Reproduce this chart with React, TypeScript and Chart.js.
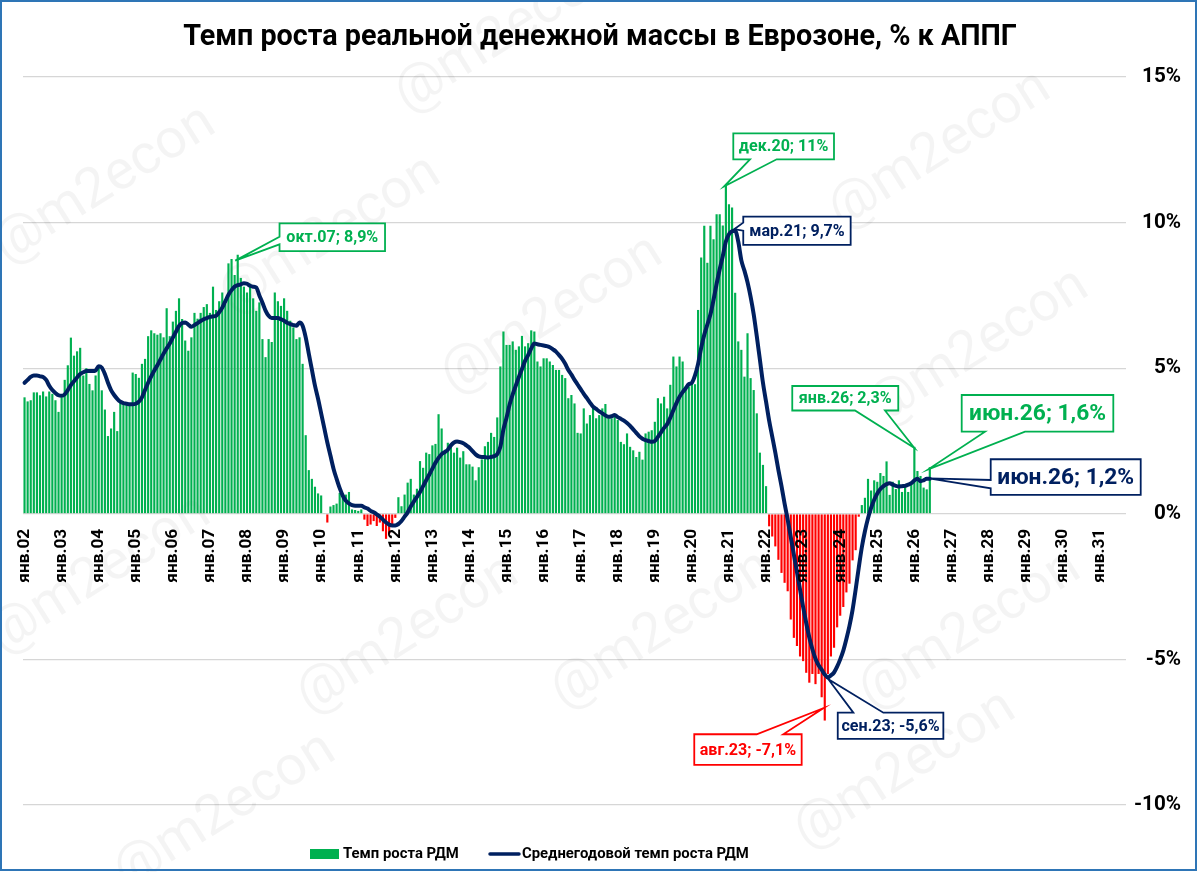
import React, { useEffect, useRef } from 'react';
import { Chart, registerables } from 'chart.js';

Chart.register(...registerables);

// ---------------- DATA ----------------
const MONTH_NAMES = ['янв', 'фев', 'мар', 'апр', 'май', 'июн', 'июл', 'авг', 'сен', 'окт', 'ноя', 'дек'];
const FIRST_YEAR = 2002;
const AXIS_MONTH_COUNT = 357; // янв.02 … сен.31
const categories: string[] = Array.from({ length: AXIS_MONTH_COUNT }, (_, i) =>
  `${MONTH_NAMES[i % 12]}.${String((FIRST_YEAR + Math.floor(i / 12)) % 100).padStart(2, '0')}`
);

// Темп роста РДМ, % к АППГ (янв.02 – июн.26)
const growthRDM: number[] = [
  4.0, 3.86, 3.9, 4.17, 4.17, 4.07, 4.2, 4.03, 4.2, 4.12, 3.9, 3.5,
  4.0, 4.6, 5.1, 6.05, 5.43, 5.58, 5.7, 4.75, 5.0, 4.46, 4.24, 4.75,
  5.03, 4.24, 3.58, 2.67, 2.93, 3.5, 2.84, 3.84, 3.84, 3.78, 3.78, 4.85,
  4.8, 4.67, 5.15, 5.32, 6.1, 6.3, 6.2, 6.15, 6.2, 6.06, 7.06, 6.1,
  6.6, 6.97, 7.4, 6.69, 5.95, 5.6, 6.06, 6.9, 6.7, 6.9, 7.1, 7.2,
  6.9, 7.8, 7.0, 7.3, 7.6, 7.2, 8.6, 8.75, 8.2, 8.9, 8.1, 7.8,
  7.6, 7.9, 7.4, 6.97, 7.26, 6.0, 5.38, 6.0, 5.9, 7.6, 7.3, 7.14,
  7.4, 6.97, 6.63, 6.4, 6.0, 6.06, 5.15, 2.7, 1.5, 1.2, 0.93, 0.7,
  0.63, 0.02, -0.3, 0.25, 0.3, 0.35, 0.72, 0.55, 0.66, 0.75, 0.15, 0.13,
  0.1, 0.15, -0.2, -0.42, -0.37, -0.25, -0.42, -0.3, -0.6, -0.86, -0.7, -0.42,
  -0.14, 0.57, 0.26, 0.66, 1.07, 1.2, 0.66, 0.86, 1.81, 1.58, 2.1, 2.05,
  2.35, 2.4, 3.42, 2.93, 2.15, 2.44, 2.4, 2.1, 2.27, 1.93, 2.15, 1.7,
  1.7, 1.62, 1.15, 1.6, 1.87, 2.32, 2.47, 2.78, 2.64, 3.31, 5.06, 6.26,
  5.8, 5.8, 5.92, 5.63, 5.75, 6.11, 5.75, 5.86, 6.3, 6.26, 5.23, 5.06,
  5.34, 5.34, 5.23, 5.11, 4.94, 4.94, 4.77, 4.66, 3.97, 4.08, 3.79, 2.78,
  2.76, 3.62, 3.1, 3.39, 3.68, 3.28, 3.39, 3.62, 3.77, 3.28, 3.28, 3.39,
  3.22, 2.47, 2.39, 2.76, 2.3, 2.18, 1.95, 2.13, 1.86, 2.76, 2.82, 2.87,
  3.16, 3.97, 3.79, 4.02, 3.62, 4.43, 5.4, 5.06, 5.4, 5.23, 4.37, 4.37,
  4.48, 4.45, 7.0, 8.8, 9.89, 8.62, 9.89, 9.43, 10.29, 10.29, 9.9, 11.26,
  10.63, 10.52, 7.59, 5.92, 5.63, 4.71, 6.2, 4.66, 4.25, 3.45, 2.1, 1.68,
  0.95, -0.43, -0.78, -1.12, -1.58, -2.03, -2.37, -2.66, -3.63, -4.26, -4.54, -4.9,
  -5.06, -5.46, -5.8, -5.5, -5.85, -5.5, -6.3, -7.1, -5.5, -4.9, -4.6, -3.9,
  -3.5, -3.2, -2.7, -2.4, -1.6, -1.25, -0.1, 0.3, 0.55, 1.2, 0.8, 1.15,
  1.1, 1.4, 1.3, 1.8, 0.65, 1.1, 0.85, 1.15, 0.75, 0.95, 0.75, 1.05,
  2.3, 1.47, 1.3, 0.9, 0.84, 1.6,
];

// Среднегодовой темп роста РДМ (янв.02 – июн.26)
const avgGrowthRDM: number[] = [
  4.5, 4.6, 4.7, 4.75, 4.75, 4.72, 4.7, 4.6, 4.4, 4.25, 4.15, 4.07,
  4.05, 4.1, 4.25, 4.42, 4.55, 4.68, 4.8, 4.86, 4.9, 4.9, 4.9, 4.92,
  5.07, 5.02, 4.8, 4.5, 4.25, 4.08, 3.95, 3.85, 3.8, 3.78, 3.76, 3.76,
  3.78, 3.85, 4.0, 4.25, 4.5, 4.72, 4.92, 5.1, 5.3, 5.5, 5.68, 5.85,
  6.05, 6.25, 6.45, 6.55, 6.57, 6.5, 6.42, 6.48, 6.55, 6.62, 6.68, 6.72,
  6.76, 6.78, 6.8, 6.92, 7.08, 7.3, 7.52, 7.68, 7.8, 7.85, 7.88, 7.92,
  7.9, 7.83, 7.8, 7.77, 7.5, 7.25, 6.98, 6.8, 6.72, 6.72, 6.72, 6.68,
  6.63, 6.56, 6.51, 6.48, 6.46, 6.57, 6.46, 6.06, 5.5, 4.95, 4.4, 3.95,
  3.45, 2.95, 2.45, 2.0, 1.55, 1.2, 0.88, 0.62, 0.45, 0.36, 0.3, 0.28,
  0.28, 0.28, 0.22, 0.18, 0.1, 0.05, -0.02, -0.1, -0.2, -0.3, -0.37, -0.4,
  -0.4, -0.35, -0.25, -0.1, 0.05, 0.25, 0.42, 0.58, 0.75, 0.95, 1.15, 1.35,
  1.55, 1.75, 1.92, 2.05, 2.12, 2.2, 2.35, 2.45, 2.48, 2.46, 2.42, 2.35,
  2.27, 2.15, 2.04, 1.97, 1.95, 1.95, 1.93, 1.95, 1.98, 2.05, 2.3, 2.9,
  3.3, 3.75, 4.1, 4.4, 4.7, 4.97, 5.25, 5.45, 5.68, 5.85, 5.82, 5.8,
  5.78, 5.76, 5.72, 5.65, 5.57, 5.45, 5.32, 5.15, 4.94, 4.78, 4.6, 4.44,
  4.28, 4.12, 3.97, 3.82, 3.68, 3.6, 3.52, 3.45, 3.38, 3.33, 3.35, 3.39,
  3.32, 3.26, 3.2, 3.12, 3.02, 2.9, 2.78, 2.66, 2.58, 2.53, 2.5, 2.47,
  2.5, 2.64, 2.8, 2.95, 3.08, 3.3, 3.56, 3.8, 4.02, 4.18, 4.31, 4.45,
  4.5, 4.75, 5.15, 5.7, 6.15, 6.5, 6.85, 7.35, 7.9, 8.4, 8.85, 9.35,
  9.6, 9.7, 9.72, 9.35, 8.7, 8.35, 7.95, 7.45, 6.85, 6.1, 5.3, 4.5,
  3.85, 3.2, 2.65, 2.1, 1.5, 0.95, 0.35, -0.2, -0.8, -1.4, -2.0, -2.6,
  -3.2, -3.75, -4.25, -4.65, -4.98, -5.2, -5.35, -5.52, -5.62, -5.55, -5.45, -5.25,
  -5.0, -4.7, -4.3, -3.85, -3.3, -2.6, -1.85, -1.15, -0.6, -0.15, 0.2, 0.48,
  0.7, 0.85, 0.95, 1.02, 1.05, 1.0, 0.96, 0.94, 0.95, 0.96, 1.0, 1.05,
  1.15, 1.2, 1.12, 1.15, 1.2, 1.2,
];

const Y_MIN = -10;
const Y_MAX = 15;
const Y_STEP = 5;

const titleText = 'Темп роста реальной денежной массы в Еврозоне, % к АППГ';
const legendTexts = ['Темп роста РДМ', 'Среднегодовой темп роста РДМ'];
const watermarkText = '@m2econ';

// callouts: label, month index, which series is annotated
const calloutTexts = ['окт.07; 8,9%', 'дек.20; 11%', 'мар.21; 9,7%', 'янв.26; 2,3%', 'июн.26; 1,6%', 'июн.26; 1,2%', 'сен.23; -5,6%', 'авг.23; -7,1%'];
const calloutIndex = [69, 227, 230, 288, 293, 293, 260, 259];
const calloutSeries = ['bar', 'bar', 'line', 'bar', 'bar', 'line', 'line', 'bar'];

// ---------------- STYLE / LAYOUT ----------------
const GREEN = '#00B050';
const RED = '#FF0000';
const NAVY = '#002060';
const FRAME = '#2E75B6';
const GRID = '#d6d6d6';
const FONT = 'Roboto, "Noto Sans", sans-serif';

type Side = 'left' | 'top' | 'bottom';
const calloutLayout: { dx: number; dy: number; w: number; h: number; side: Side; b1: number; b2: number; tdx: number; tdy: number; big: boolean }[] = [
  { dx: 41.8, dy: -31.3, w: 105.5, h: 27.7, side: 'left', b1: 13.5, b2: 21, tdx: -2.5, tdy: 6, big: false },
  { dx: 7.4, dy: -52.6, w: 100.7, h: 26, side: 'bottom', b1: 16.7, b2: 43.4, tdx: -1.9, tdy: 0.6, big: false },
  { dx: 8.1, dy: -14.1, w: 107.4, h: 28.3, side: 'left', b1: 6, b2: 14, tdx: -1, tdy: -1.5, big: false },
  { dx: -122.1, dy: -60.8, w: 106, h: 24.5, side: 'bottom', b1: 62.7, b2: 92.7, tdx: 0, tdy: 1.2, big: false },
  { dx: 31.9, dy: -72.2, w: 151.6, h: 36.7, side: 'bottom', b1: 23.3, b2: 63.3, tdx: -1.5, tdy: 2.1, big: true },
  { dx: 60.9, dy: -19.6, w: 150, h: 35.7, side: 'left', b1: 20.7, b2: 29, tdx: -1, tdy: -0.4, big: true },
  { dx: 9.9, dy: 35.2, w: 105.6, h: 26.3, side: 'top', b1: 15.6, b2: 45.6, tdx: 0.5, tdy: 1.8, big: false },
  { dx: -130.5, dy: 13.7, w: 107.4, h: 30.7, side: 'top', b1: 62.4, b2: 89, tdx: -1.5, tdy: -12.3, big: false },
];
const calloutColors = [GREEN, GREEN, NAVY, GREEN, GREEN, NAVY, NAVY, RED];

const watermarkSpots: [number, number][] = [
  [506, 34], [105, 185], [330, 235], [940, 150], [552, 315], [978, 348],
  [100, 575], [408, 635], [662, 630], [970, 630], [225, 812], [905, 770],
];

function fitFont(text: string, weight: string, target: number): number {
  const c = document.createElement('canvas').getContext('2d');
  if (!c) return 16;
  c.font = `${weight} 100px ${FONT}`;
  const w = c.measureText(text).width;
  return w > 0 ? (100 * target) / w : 16;
}
function textWidth(text: string, weight: string, size: number): number {
  const c = document.createElement('canvas').getContext('2d');
  if (!c) return 0;
  c.font = `${weight} ${size}px ${FONT}`;
  return c.measureText(text).width;
}

export default function App() {
  const ref = useRef<HTMLCanvasElement>(null);

  useEffect(() => {
    const canvas = ref.current;
    if (!canvas) return;

    const S = {
      title: fitFont(titleText, 'bold', 834),
      xTick: fitFont('янв.02', 'bold', 54),
      yTick: fitFont('15%', 'bold', 39),
      legend: fitFont(legendTexts[1], 'bold', 227),
      small: fitFont(calloutTexts[0], 'bold', 92),
      big: fitFont(calloutTexts[4], 'bold', 137),
      wm: fitFont(watermarkText, 'normal', 250),
    };
    const Y_AXIS_W = 55;
    const yPad = Math.max(0, Y_AXIS_W - textWidth('-10%', 'bold', S.yTick));

    const drawCallout = (ctx: CanvasRenderingContext2D, k: number, ax: number, ay: number) => {
      const L = calloutLayout[k];
      const color = calloutColors[k];
      const tx = ax + L.tdx;
      const ty = ay + L.tdy;
      const bx = ax + L.dx;
      const by = ay + L.dy;
      const { w, h, b1, b2 } = L;
      ctx.beginPath();
      if (L.side === 'bottom') {
        ctx.moveTo(bx, by); ctx.lineTo(bx + w, by); ctx.lineTo(bx + w, by + h);
        ctx.lineTo(bx + b2, by + h); ctx.lineTo(tx, ty); ctx.lineTo(bx + b1, by + h);
        ctx.lineTo(bx, by + h);
      } else if (L.side === 'top') {
        ctx.moveTo(bx, by); ctx.lineTo(bx + b1, by); ctx.lineTo(tx, ty); ctx.lineTo(bx + b2, by);
        ctx.lineTo(bx + w, by); ctx.lineTo(bx + w, by + h); ctx.lineTo(bx, by + h);
      } else {
        ctx.moveTo(bx, by); ctx.lineTo(bx + w, by); ctx.lineTo(bx + w, by + h); ctx.lineTo(bx, by + h);
        ctx.lineTo(bx, by + b2); ctx.lineTo(tx, ty); ctx.lineTo(bx, by + b1);
      }
      ctx.closePath();
      ctx.fillStyle = '#ffffff';
      ctx.fill();
      ctx.lineWidth = 1.8;
      ctx.lineJoin = 'miter';
      ctx.strokeStyle = color;
      ctx.stroke();
      ctx.font = `bold ${L.big ? S.big : S.small}px ${FONT}`;
      ctx.fillStyle = color;
      ctx.textAlign = 'center';
      ctx.textBaseline = 'middle';
      ctx.fillText(calloutTexts[k], bx + w / 2, by + h / 2 + 1);
    };

    const deco = {
      id: 'deco',
      beforeDraw(chart: any) {
        const { ctx, width, height } = chart;
        ctx.save();
        ctx.fillStyle = '#ffffff';
        ctx.fillRect(0, 0, width, height);
        ctx.restore();
      },
      beforeDatasetsDraw(chart: any) {
        const ctx: CanvasRenderingContext2D = chart.ctx;
        ctx.save();
        ctx.font = `normal ${S.wm}px ${FONT}`;
        ctx.fillStyle = 'rgba(0,0,0,0.045)';
        ctx.textAlign = 'center';
        ctx.textBaseline = 'middle';
        for (const [x, y] of watermarkSpots) {
          ctx.save();
          ctx.translate(x, y);
          ctx.rotate((-32 * Math.PI) / 180);
          ctx.fillText(watermarkText, 0, 0);
          ctx.restore();
        }
        ctx.restore();
      },
      afterDraw(chart: any) {
        const ctx: CanvasRenderingContext2D = chart.ctx;
        const xs = chart.scales.x;
        const ys = chart.scales.y;
        ctx.save();
        // title
        ctx.font = `bold ${S.title}px ${FONT}`;
        ctx.fillStyle = '#000';
        ctx.textAlign = 'center';
        ctx.textBaseline = 'alphabetic';
        ctx.fillText(titleText, 600, 45);
        // legend
        ctx.fillStyle = GREEN;
        ctx.fillRect(310, 849, 29, 10);
        ctx.font = `bold ${S.legend}px ${FONT}`;
        ctx.fillStyle = '#000';
        ctx.textAlign = 'left';
        ctx.textBaseline = 'middle';
        ctx.fillText(legendTexts[0], 343, 854.5);
        ctx.strokeStyle = NAVY;
        ctx.lineWidth = 3.5;
        ctx.lineCap = 'round';
        ctx.beginPath();
        ctx.moveTo(490, 854);
        ctx.lineTo(519, 854);
        ctx.stroke();
        ctx.lineCap = 'butt';
        ctx.fillText(legendTexts[1], 522, 854.5);
        // callouts
        for (let k = 0; k < calloutTexts.length; k++) {
          const idx = calloutIndex[k];
          const v = calloutSeries[k] === 'bar' ? growthRDM[idx] : avgGrowthRDM[idx];
          drawCallout(ctx, k, xs.getPixelForValue(idx), ys.getPixelForValue(v));
        }
        // frame
        ctx.strokeStyle = FRAME;
        ctx.lineWidth = 2;
        ctx.strokeRect(1, 1, 1195, 869);
        ctx.restore();
      },
    };

    const chart = new Chart(canvas, {
      type: 'bar',
      data: {
        labels: categories,
        datasets: [
          {
            type: 'line',
            label: legendTexts[1],
            data: avgGrowthRDM,
            borderColor: NAVY,
            backgroundColor: NAVY,
            borderWidth: 4,
            pointRadius: 0,
            cubicInterpolationMode: 'monotone',
            borderJoinStyle: 'round',
            borderCapStyle: 'round',
            fill: false,
            order: 0,
          } as any,
          {
            type: 'bar',
            label: legendTexts[0],
            data: growthRDM,
            backgroundColor: growthRDM.map((v) => (v < 0 ? RED : GREEN)),
            borderWidth: 0,
            barPercentage: 0.7,
            categoryPercentage: 1,
            order: 1,
          } as any,
        ],
      },
      options: {
        responsive: false,
        animation: false,
        events: [],
        layout: { padding: { left: 23, right: 19, top: 77, bottom: 67 } },
        plugins: {
          legend: { display: false },
          title: { display: false },
          tooltip: { enabled: false },
        },
        scales: {
          x: {
            type: 'category',
            position: { y: 0 } as any,
            offset: true,
            grid: { display: false, drawTicks: false },
            border: { display: false },
            ticks: {
              z: 1,
              autoSkip: false,
              minRotation: 90,
              maxRotation: 90,
              padding: 15,
              color: '#000',
              font: { family: FONT, size: S.xTick, weight: 'bold' },
              callback: (_v: any, i: number) => (i % 12 === 0 ? categories[i] : ''),
            },
          },
          y: {
            position: 'right',
            min: Y_MIN,
            max: Y_MAX,
            grid: { color: GRID, lineWidth: 1.3, drawTicks: false },
            border: { display: false },
            ticks: {
              stepSize: Y_STEP,
              crossAlign: 'far',
              padding: yPad,
              color: '#000',
              font: { family: FONT, size: S.yTick, weight: 'bold' },
              callback: (v: any) => `${v}%`,
            },
            afterFit: (s: any) => {
              s.width = Y_AXIS_W;
            },
          },
        },
      } as any,
      plugins: [deco],
    });

    return () => chart.destroy();
  }, []);

  return (
    <div style={{ position: 'fixed', left: 0, top: 0, width: 1200, height: 872, background: '#fff' }}>
      <canvas ref={ref} width={1200} height={872} style={{ width: 1200, height: 872, display: 'block' }} />
    </div>
  );
}
